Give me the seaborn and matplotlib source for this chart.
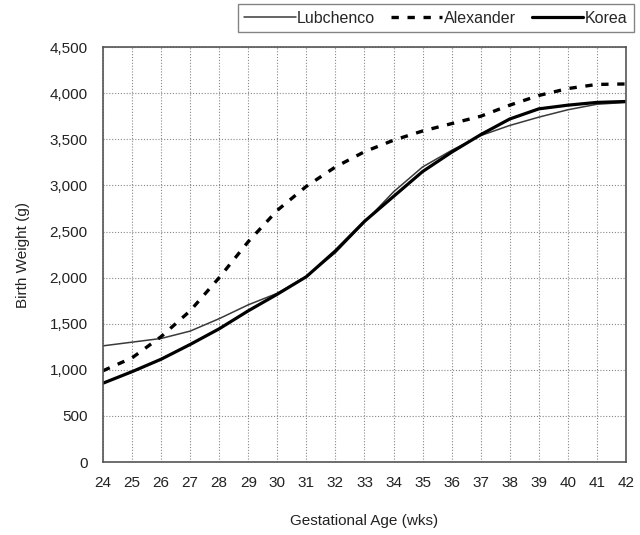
import matplotlib
matplotlib.use("Agg")
import matplotlib.pyplot as plt
from matplotlib.ticker import FuncFormatter
import seaborn as sns
import pandas as pd

weeks = list(range(24, 43))
lubchenco = [1260, 1300, 1340, 1420, 1555, 1705, 1830, 2010, 2270, 2600,
             2930, 3200, 3380, 3540, 3650, 3740, 3820, 3880, 3900]
alexander = [990, 1130, 1360, 1640, 2000, 2390, 2730, 2990, 3200, 3365,
             3490, 3590, 3670, 3750, 3870, 3975, 4050, 4095, 4100]
korea = [855, 980, 1115, 1275, 1445, 1640, 1820, 2010, 2290, 2610,
         2880, 3150, 3360, 3550, 3720, 3830, 3870, 3900, 3910]
y_ticks = list(range(0, 4501, 500))

sns.set_style("white")
plt.rcParams["font.family"] = ["Liberation Sans", "DejaVu Sans"]

df = pd.DataFrame({"week": weeks, "Lubchenco": lubchenco,
                   "Alexander": alexander, "Korea": korea})

fig = plt.figure(figsize=(6.4, 5.35), dpi=100)
ax = fig.add_axes([0.161, 0.1364, 0.817, 0.7756])

sns.lineplot(data=df, x="week", y="Lubchenco", ax=ax, color="#3a3a3a",
             linewidth=1.1, label="Lubchenco")
sns.lineplot(data=df, x="week", y="Alexander", ax=ax, color="black",
             linewidth=2.4, label="Alexander", dashes=False)
ax.lines[-1].set_dashes([2.2, 2.6])
sns.lineplot(data=df, x="week", y="Korea", ax=ax, color="black",
             linewidth=2.3, label="Korea")

ax.set_xlim(24, 42)
ax.set_ylim(0, 4500)
ax.set_xticks(weeks)
ax.set_yticks(y_ticks)
ax.yaxis.set_major_formatter(FuncFormatter(lambda v, p: f"{int(v):,}"))
ax.grid(True, color="#888888", linestyle=(0, (1, 1.6)), linewidth=0.8)
ax.tick_params(length=0, labelsize=11, colors="#222222")
ax.tick_params(axis="x", pad=10)
ax.tick_params(axis="y", pad=11)
for s in ax.spines.values():
    s.set_color("#555555")
    s.set_linewidth(1.2)

ax.set_xlabel("Gestational Age (wks)", fontsize=11, color="#222222", labelpad=17)
ax.set_ylabel("Birth Weight (g)", fontsize=11, color="#222222", labelpad=14)

leg = ax.legend(loc="upper right", bbox_to_anchor=(0.99, 0.992),
                bbox_transform=fig.transFigure, ncol=3, frameon=True,
                fancybox=False, edgecolor="#666666", fontsize=11.5,
                handlelength=3.2, handletextpad=0.1, columnspacing=1.0,
                borderpad=0.4, borderaxespad=0)
leg.get_frame().set_linewidth(1.0)

fig.savefig("out.png", dpi=100)
